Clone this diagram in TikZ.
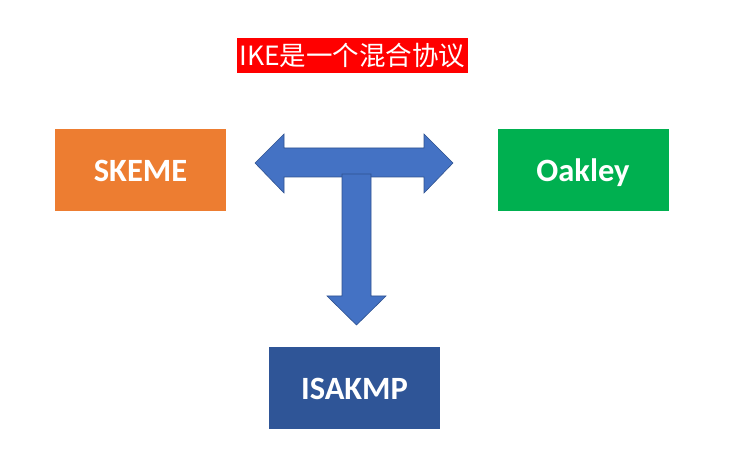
\documentclass[tikz,border=0pt]{standalone}
\usepackage{fontspec}
\setmainfont{Carlito}
\newfontfamily\cjk{Noto Sans CJK SC}
\definecolor{orangebox}{HTML}{ED7D31}
\definecolor{greenbox}{HTML}{00B050}
\definecolor{bluebox}{HTML}{2F5597}
\definecolor{arrowfill}{HTML}{4472C4}
\definecolor{arrowline}{HTML}{2F528F}
\definecolor{titlered}{HTML}{FF0000}
\newcommand{\boxtext}[1]{\raisebox{-12pt}[0pt][0pt]{#1}}
\tikzset{
  box/.style={minimum width=171pt, minimum height=82pt, inner sep=0pt, text=white, font=\fontsize{32.5}{36}\selectfont\bfseries},
  bigarrow/.style={fill=arrowfill, draw=arrowline, line width=0.6pt, line join=miter}
}
\begin{document}
\begin{tikzpicture}[x=1pt,y=-1pt]
\useasboundingbox (0,0) rectangle (740,468);
\node[fill=titlered, text=white, inner sep=0pt, minimum width=231pt, minimum height=35pt, font=\cjk\fontsize{26.5}{30}\selectfont] (title) at (352.5,55.5) {IKE是一个混合协议};
\node[box, fill=orangebox] (skeme) at (140.5,170) {\boxtext{SKEME}};
\node[box, fill=greenbox] (oakley) at (583,170) {\boxtext{Oakley}};
\node[box, fill=bluebox] (isakmp) at (354.5,388) {\boxtext{ISAKMP}};
% T-shaped arrow
\draw[bigarrow] (255,163) -- (284,134) -- (284,148) -- (424,148) -- (424,134) -- (453,163) -- (424,193) -- (424,177) -- (284,177) -- (284,193) -- cycle;
\draw[bigarrow] (342,174) -- (371,174) -- (371,296) -- (386,296) -- (356.5,325) -- (327,296) -- (342,296) -- cycle;
\end{tikzpicture}
\end{document}
